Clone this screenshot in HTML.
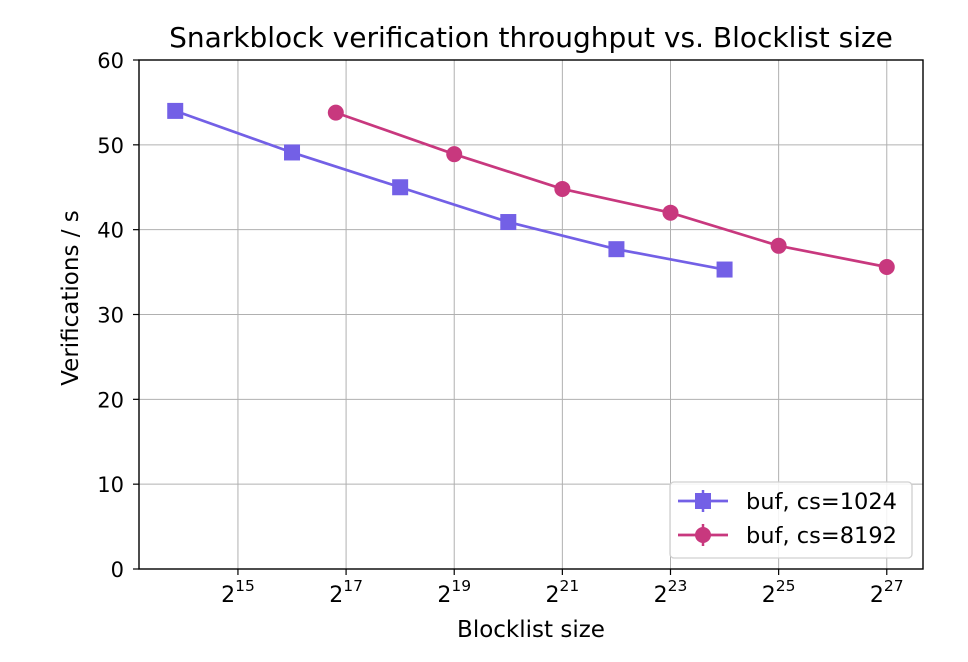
<!DOCTYPE html>
<html><head><meta charset="utf-8"><style>
body{margin:0;background:#fff;font-family:"DejaVu Sans","Liberation Sans",sans-serif;}
svg text{font-family:"DejaVu Sans","Liberation Sans",sans-serif;fill:#000;}
</style></head><body>
<svg id="chart" width="968" height="658" viewBox="0 0 968 658" xmlns="http://www.w3.org/2000/svg">
<rect width="968" height="658" fill="#fff"/>
<g id="grid"></g><g id="series"></g><g id="axes"></g>
</svg>
<script>
const blueLog2 = [13.84, 16, 18, 20, 22, 24];
const blueVals = [54.0, 49.1, 45.0, 40.9, 37.7, 35.3];
const redLog2 = [16.81, 19, 21, 23, 25, 27];
const redVals = [53.8, 48.9, 44.8, 42.0, 38.1, 35.6];
const xTicks = [15, 17, 19, 21, 23, 25, 27];
const yTicks = [0, 10, 20, 30, 40, 50, 60];

const L=139,R=923,T=60,B=569;
const xMin=13.17,xMax=27.67,yMin=0,yMax=60;
const X=v=>L+(v-xMin)/(xMax-xMin)*(R-L);
const Y=v=>B-(v-yMin)/(yMax-yMin)*(B-T);
const NS="http://www.w3.org/2000/svg";
function mk(tag,attrs,parent){const e=document.createElementNS(NS,tag);for(const k in attrs)e.setAttribute(k,attrs[k]);parent.appendChild(e);return e;}
const grid=document.getElementById('grid'),series=document.getElementById('series'),axes=document.getElementById('axes');
xTicks.forEach(t=>{
  const l=mk('line',{x1:X(t),x2:X(t),y1:T,y2:B,stroke:'#b0b0b0','stroke-width':1},grid);
  
  
  mk('line',{x1:X(t),x2:X(t),y1:B,y2:B+6,stroke:'#000','stroke-width':1.2},axes);
  const tx=mk('text',{x:X(t),y:602,'font-size':22,'text-anchor':'middle'},axes);
  
  
  tx.innerHTML='2<tspan dy="-11" font-size="15.5">'+t+'</tspan>';
});
yTicks.forEach(t=>{
  const l=mk('line',{x1:L,x2:R,y1:Y(t),y2:Y(t),stroke:'#b0b0b0','stroke-width':1},grid);
  
  
  mk('line',{x1:L-6,x2:L,y1:Y(t),y2:Y(t),stroke:'#000','stroke-width':1.2},axes);
  const tx=mk('text',{x:L-15,y:Y(t)+8,'font-size':21,'text-anchor':'end'},axes);
  
  
  tx.textContent=t;
});
const frame=mk('rect',{x:L,y:T,width:R-L,height:B-T,fill:'none',stroke:'#000','stroke-width':1.4},axes);


function drawSeries(xs,ys,color,marker,name){
  const pl=mk('polyline',{points:xs.map((x,i)=>X(x)+','+Y(ys[i])).join(' '),fill:'none',stroke:color,'stroke-width':2.7},series);
  
  
  xs.forEach((x,i)=>{
    let m;
    if(marker==='s') m=mk('rect',{x:X(x)-8,y:Y(ys[i])-8,width:16,height:16,fill:color},series);
    else m=mk('circle',{cx:X(x),cy:Y(ys[i]),r:8,fill:color},series);
    
    
  });
}
drawSeries(blueLog2,blueVals,'#7360e6','s','cs1024');
drawSeries(redLog2,redVals,'#c8387e','o','cs8192');
</script>
<svg style="position:absolute;left:0;top:0" width="968" height="658">
<text x="531" y="47" font-size="28" text-anchor="middle">Snarkblock verification throughput vs. Blocklist size</text>
<text x="531" y="637" font-size="23" text-anchor="middle">Blocklist size</text>
<text transform="translate(78,298) rotate(-90)" font-size="23" text-anchor="middle">Verifications / s</text>
<g>
<rect x="670" y="482" width="242" height="76" rx="4" fill="#fff" fill-opacity="0.85" stroke="#d0d0d0" stroke-width="1.3"/>
<line x1="678" x2="728" y1="501" y2="501" stroke="#7360e6" stroke-width="2.7"/>
<rect x="695" y="493" width="16" height="16" fill="#7360e6"/>
<line x1="703" x2="703" y1="490" y2="512" stroke="#7360e6" stroke-width="2.5"/>
<text x="746" y="509" font-size="22.5">buf, cs=1024</text>
<line x1="678" x2="728" y1="535" y2="535" stroke="#c8387e" stroke-width="2.7"/>
<circle cx="703" cy="535" r="8" fill="#c8387e"/>
<line x1="703" x2="703" y1="524" y2="546" stroke="#c8387e" stroke-width="2.5"/>
<text x="746" y="543" font-size="22.5">buf, cs=8192</text>
</g>
</svg>
</body></html>
